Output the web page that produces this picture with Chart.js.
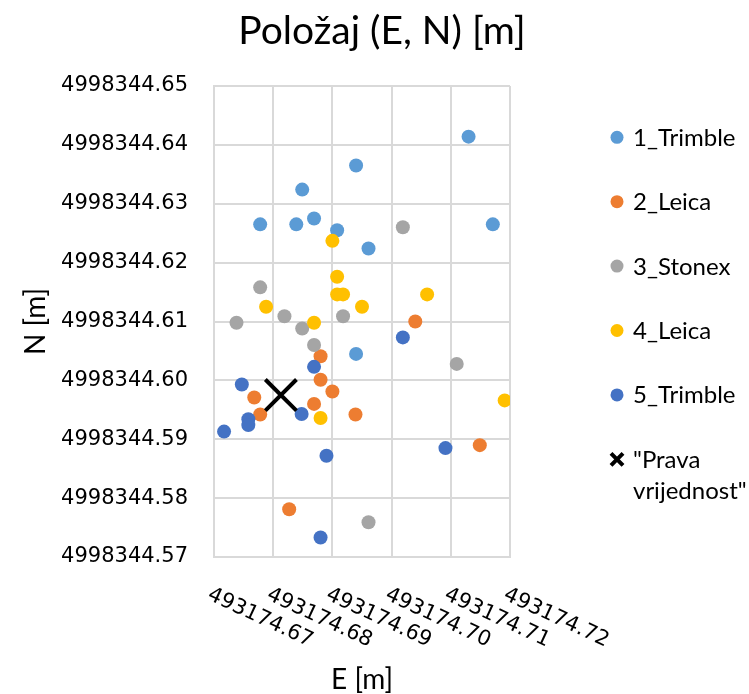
<!DOCTYPE html>
<html>
<head>
<meta charset="utf-8">
<title>Položaj (E, N) [m]</title>
<script src="https://cdn.jsdelivr.net/npm/chart.js@4.4.0/dist/chart.umd.min.js"></script>
<style>
  body { margin: 0; background: #fff; }
  #wrap { width: 749px; height: 694px; }
</style>
</head>
<body>
<div id="wrap"><canvas id="myChart" width="749" height="694"></canvas></div>
<script>
// podaci ocitani sa slike
const e1 = [493174.7130, 493174.6940, 493174.6849, 493174.6778, 493174.6839, 493174.6869, 493174.6908, 493174.6961, 493174.7171, 493174.6940];
const n1 = [4998344.6414, 4998344.6365, 4998344.6324, 4998344.6265, 4998344.6265, 4998344.6275, 4998344.6255, 4998344.6224, 4998344.6265, 4998344.6045];

const e2 = [493174.7040, 493174.6880, 493174.6880, 493174.6900, 493174.6768, 493174.6869, 493174.6778, 493174.6939, 493174.7149, 493174.6827];
const n2 = [4998344.6100, 4998344.6041, 4998344.6001, 4998344.5981, 4998344.5971, 4998344.5960, 4998344.5942, 4998344.5942, 4998344.5890, 4998344.5781];

const e3 = [493174.7019, 493174.6778, 493174.6738, 493174.6819, 493174.6918, 493174.6849, 493174.6869, 493174.7110, 493174.6961];
const n3 = [4998344.6260, 4998344.6158, 4998344.6098, 4998344.6109, 4998344.6109, 4998344.6088, 4998344.6060, 4998344.6028, 4998344.5759];

const e4 = [493174.6900, 493174.6908, 493174.6908, 493174.6918, 493174.6788, 493174.6950, 493174.7060, 493174.6869, 493174.6880, 493174.7191];
const n4 = [4998344.6237, 4998344.6176, 4998344.6146, 4998344.6146, 4998344.6125, 4998344.6125, 4998344.6146, 4998344.6098, 4998344.5936, 4998344.5966];

const e5 = [493174.7019, 493174.6869, 493174.6747, 493174.6848, 493174.6758, 493174.6758, 493174.6717, 493174.6890, 493174.7091, 493174.6880];
const n5 = [4998344.6073, 4998344.6023, 4998344.5993, 4998344.5943, 4998344.5934, 4998344.5924, 4998344.5913, 4998344.5872, 4998344.5885, 4998344.5733];

const ePrava = [493174.6813];
const nPrava = [4998344.5975];

const xTicks = [493174.67, 493174.68, 493174.69, 493174.70, 493174.71, 493174.72];
const yTicks = [4998344.57, 4998344.58, 4998344.59, 4998344.60, 4998344.61, 4998344.62, 4998344.63, 4998344.64, 4998344.65];

const nazivi = ['1_Trimble', '2_Leica', '3_Stonex', '4_Leica', '5_Trimble', '"Prava vrijednost"'];
const boje = ['#5B9BD5', '#ED7D31', '#A5A5A5', '#FFC000', '#4472C4', '#000000'];

function tocke(e, n) {
  return e.map((x, i) => ({ x: x, y: n[i] }));
}

const serije = [[e1, n1], [e2, n2], [e3, n3], [e4, n4], [e5, n5]];
const datasets = serije.map((s, i) => ({
  label: nazivi[i],
  data: tocke(s[0], s[1]),
  backgroundColor: boje[i],
  borderColor: boje[i],
  pointRadius: 7,
  pointHoverRadius: 7,
  borderWidth: 0,
  order: 5 - i
}));
datasets.push({
  label: nazivi[5],
  data: tocke(ePrava, nPrava),
  pointStyle: 'crossRot',
  pointRadius: 22,
  pointHoverRadius: 22,
  borderColor: '#000',
  backgroundColor: '#000',
  borderWidth: 4,
  order: 0
});

const gridBoja = '#d9d9d9';

// naslov, oznake E osi i legenda se crtaju rucno
const crtanje = {
  id: 'crtanje',
  afterDraw(chart) {
    const ctx = chart.ctx;
    const xs = chart.scales.x;
    ctx.save();
    ctx.fillStyle = '#000';

    // naslov
    ctx.font = '39px Lato';
    ctx.textAlign = 'center';
    ctx.textBaseline = 'alphabetic';
    ctx.fillText('Položaj (E, N) [m]', 382, 44);

    // zakrenute oznake na E osi
    ctx.font = '21px "DejaVu Sans"';
    ctx.textAlign = 'left';
    xTicks.forEach(v => {
      const px = xs.getPixelForValue(v);
      ctx.save();
      ctx.translate(px - 1, 585);
      ctx.rotate(25 * Math.PI / 180);
      ctx.fillText(v.toFixed(2), 0, 15.3);
      ctx.restore();
    });

    // legenda
    ctx.font = '24px Lato';
    const lx = 617, tx = 633;
    chart.data.datasets.forEach((ds, i) => {
      const ly = 137.3 + i * 64.4;
      if (ds.pointStyle === 'crossRot') {
        ctx.strokeStyle = '#000';
        ctx.lineWidth = 4;
        ctx.beginPath();
        ctx.moveTo(lx - 6, ly - 6); ctx.lineTo(lx + 6, ly + 6);
        ctx.moveTo(lx + 6, ly - 6); ctx.lineTo(lx - 6, ly + 6);
        ctx.stroke();
        const rijeci = ds.label.split(' ');
        ctx.fillText(rijeci[0], tx, ly + 8.5);
        ctx.fillText(rijeci[1], tx, ly + 39.5);
      } else {
        ctx.fillStyle = ds.backgroundColor;
        ctx.beginPath();
        ctx.arc(lx, ly, 6.5, 0, Math.PI * 2);
        ctx.fill();
        ctx.fillStyle = '#000';
        ctx.fillText(ds.label, tx, ly + 8.5);
      }
    });
    ctx.restore();
  }
};

const ctx = document.getElementById('myChart');
new Chart(ctx, {
  type: 'scatter',
  data: { datasets: datasets },
  plugins: [crtanje],
  options: {
    responsive: false,
    animation: false,
    layout: { padding: { top: 86, left: 0, right: 239, bottom: 0 } },
    plugins: {
      legend: { display: false },
      tooltip: { enabled: false }
    },
    scales: {
      x: {
        type: 'linear',
        min: xTicks[0],
        max: xTicks[xTicks.length - 1],
        afterBuildTicks: s => { s.ticks = xTicks.map(v => ({ value: v })); },
        afterFit: s => { s.height = 137; s.paddingLeft = 0; s.paddingRight = 0; },
        ticks: { display: false },
        grid: { color: gridBoja, lineWidth: 2, drawTicks: false },
        border: { color: gridBoja, width: 2 },
        title: {
          display: true,
          text: 'E [m]',
          color: '#000',
          font: { family: 'Lato', size: 28 },
          padding: { top: 0, bottom: -3 }
        }
      },
      y: {
        type: 'linear',
        min: yTicks[0],
        max: yTicks[yTicks.length - 1],
        afterBuildTicks: s => { s.ticks = yTicks.map(v => ({ value: v })); },
        afterFit: s => { s.width = 214; s.paddingTop = 0; s.paddingBottom = 0; },
        ticks: {
          color: '#000',
          padding: 26,
          font: { family: 'DejaVu Sans', size: 21 },
          callback: v => v.toFixed(2)
        },
        grid: { color: gridBoja, lineWidth: 2, drawTicks: false },
        border: { color: gridBoja, width: 2 },
        title: {
          display: true,
          text: 'N [m]',
          color: '#000',
          font: { family: 'Lato', size: 28 },
          padding: { top: 19, bottom: 0 }
        }
      }
    }
  }
});
</script>
</body>
</html>
